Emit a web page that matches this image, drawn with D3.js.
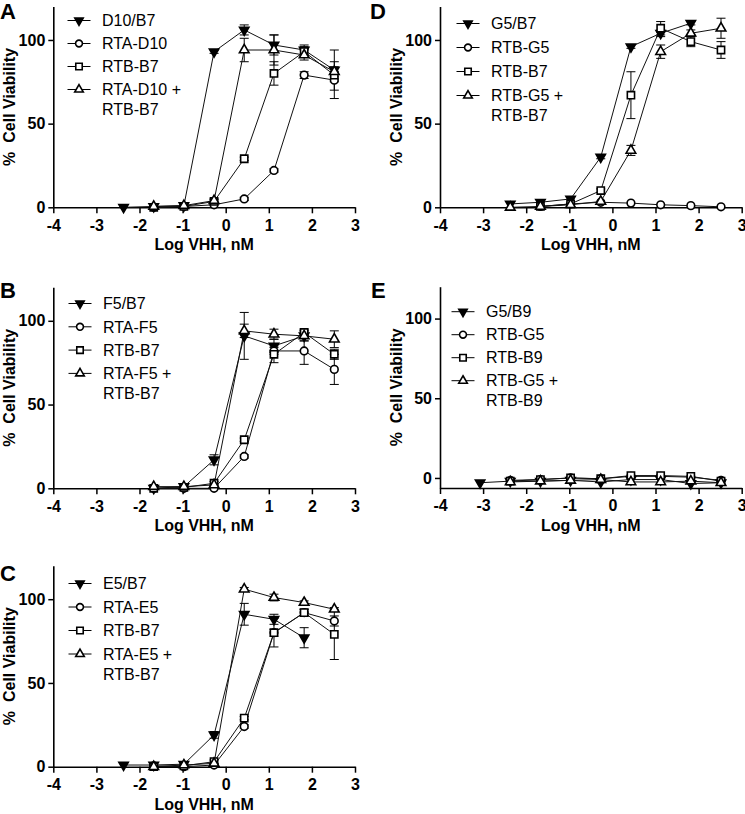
<!DOCTYPE html>
<html><head><meta charset="utf-8">
<script src="https://cdn.jsdelivr.net/npm/d3@7"></script>
<style>body{margin:0;background:#fff} svg{display:block;font-family:"Liberation Sans",Arial,Helvetica,sans-serif}</style>
</head><body><svg id="chart" width="745" height="814"></svg>
<script>
// ---------- DATA ----------
const logConc = [-3.07, -2.37, -1.67, -0.97, -0.27, 0.43, 1.12, 1.82, 2.52];
const xTicks = [-4, -3, -2, -1, 0, 1, 2, 3];
const yTicks = [0, 50, 100];
const xTitle = "Log VHH, nM";
const yTitle = "%  Cell Viability";

// Panel A
const labelsA = ["D10/B7", "RTA-D10", "RTB-B7", "RTA-D10 +\nRTB-B7"];
const valsA1 = [null, 0, 0.5, 1, 93, 106, 97, 94, 82];
const errA1  = [0, 0, 0, 0, 1, 3, 6, 3, 12];
const valsA2 = [null, null, 0, 0.5, 1.5, 5, 22, 79, 76];
const errA2  = [0, 0, 0, 0, 0, 1, 1, 2, 11];
const valsA3 = [null, null, 0, 0.5, 3.5, 29, 80, 93, 79];
const errA3  = [0, 0, 0, 0, 1, 1, 7, 3, 4];
const valsA4 = [null, null, 0.5, 1, 4, 94, 94, 91, 81];
const errA4  = [0, 0, 0, 0, 1, 7, 9, 3, 3];

// Panel B
const labelsB = ["F5/B7", "RTA-F5", "RTB-B7", "RTA-F5 +\nRTB-B7"];
const valsB1 = [null, null, 0, 1, 17, 91, 85, 91, null];
const errB1  = [0, 0, 0, 0, 3, 14, 4, 3, 0];
const valsB2 = [null, null, 0, 0, 0, 19, 82, 82, 71];
const errB2  = [0, 0, 0, 0, 0, 1, 2, 8, 9];
const valsB3 = [null, null, 0, 0.5, 3, 29, 80, 93, 80];
const errB3  = [0, 0, 0, 0, 1, 1, 5, 2, 3];
const valsB4 = [null, null, 1, 1, 2, 94, 92, 91, 89];
const errB4  = [0, 0, 0, 0, 0, 4, 3, 3, 5];

// Panel C
const labelsC = ["E5/B7", "RTA-E5", "RTB-B7", "RTA-E5 +\nRTB-B7"];
const valsC1 = [null, 1, 1, 1.5, 19, 91, 88, 77, null];
const errC1  = [0, 0, 0, 0, 2, 6.5, 3, 6, 0];
const valsC2 = [null, null, 0.5, 0, 1, 24, 80, 92, 87];
const errC2  = [0, 0, 0, 0, 0, 1, 2, 2, 3];
const valsC3 = [null, null, 0, 0.5, 3, 29, 80, 92, 79];
const errC3  = [0, 0, 0, 0, 1, 1, 8.5, 2, 15];
const valsC4 = [null, null, 0, 1, 2, 106, 101, 98, 94];
const errC4  = [0, 0, 0, 0, 0, 1, 2, 1, 1];

// Panel D
const labelsD = ["G5/B7", "RTB-G5", "RTB-B7", "RTB-G5 +\nRTB-B7"];
const valsD1 = [null, 2, 3, 5, 30, 96, 104, 110, null];
const errD1  = [0, 0, 0, 0, 1, 1, 2, 1, 0];
const valsD2 = [null, null, 0.5, 2, 3, 2.5, 1.5, 1, 0.3];
const errD2  = [0, 0, 0, 0, 0, 0, 0, 0, 0];
const valsD3 = [null, null, 0.5, 2, 10, 67, 107, 99, 94];
const errD3  = [0, 0, 0, 0, 1, 14, 4, 3, 5];
const valsD4 = [null, 0, 0.5, 1.5, 3.5, 34, 93, 104, 107];
const errD4  = [0, 0, 0, 0, 0, 3, 4, 2, 6];

// Panel E
const labelsE = ["G5/B9", "RTB-G5", "RTB-B9", "RTB-G5 +\nRTB-B9"];
const valsE1 = [-3, -2, -2, -1.5, -2.5, -1, -1, -3.5, -3];
const errE1  = [0, 0, 0, 0, 0, 0, 0, 0, 0];
const valsE2 = [null, -1.5, -1, 0, -0.5, 1, 1, 0.5, -1.5];
const errE2  = [0, 0, 0, 0, 0, 0, 0, 0, 0];
const valsE3 = [null, -2, -1, 0, -0.5, 1.5, 1.5, 1, -2];
const errE3  = [0, 0, 0, 0, 0, 0, 0, 0, 0];
const valsE4 = [null, -2.5, -2, -1.5, -1, -2.5, -2.5, -2, -3];
const errE4  = [0, 0, 0, 0, 0, 0, 0, 0, 0];

// ---------- LAYOUT ----------
const panels = [
  {letter:"A", lx:0, ly:18.5, left:53.3, right:355, top:6.5, bottom:207.3, yDomain:[0,120],
   labels:labelsA, vals:[valsA1,valsA2,valsA3,valsA4], errs:[errA1,errA2,errA3,errA4],
   legX:79, legTop:20.5, legStep:23},
  {letter:"D", lx:370, ly:18.5, left:440, right:741.7, top:6.5, bottom:207.3, yDomain:[0,120],
   labels:labelsD, vals:[valsD1,valsD2,valsD3,valsD4], errs:[errD1,errD2,errD3,errD4],
   legX:468, legTop:23.5, legStep:24},
  {letter:"B", lx:0, ly:298, left:53.3, right:355, top:287.3, bottom:488.3, yDomain:[0,120],
   labels:labelsB, vals:[valsB1,valsB2,valsB3,valsB4], errs:[errB1,errB2,errB3,errB4],
   legX:80, legTop:303.5, legStep:23.3},
  {letter:"E", lx:371, ly:298, left:440, right:741.7, top:286.7, bottom:488, yDomain:[-6.3,120],
   labels:labelsE, vals:[valsE1,valsE2,valsE3,valsE4], errs:[errE1,errE2,errE3,errE4],
   legX:463, legTop:311.7, legStep:23},
  {letter:"C", lx:0, ly:581, left:53.3, right:355, top:565.7, bottom:766.7, yDomain:[0,120],
   labels:labelsC, vals:[valsC1,valsC2,valsC3,valsC4], errs:[errC1,errC2,errC3,errC4],
   legX:80, legTop:583.5, legStep:23.5}
];

const svg = d3.select("#chart");
const markerDefs = [
  {type:d3.symbolTriangle, size:38, rot:180, fill:"#000"},
  {type:d3.symbolCircle, size:46, rot:0, fill:"#fff"},
  {type:d3.symbolSquare, size:52, rot:0, fill:"#fff"},
  {type:d3.symbolTriangle, size:40, rot:0, fill:"#fff"}
];

function marker(g, m, cx, cy, scale) {
  g.append("path")
    .attr("d", d3.symbol().type(m.type).size(m.size * scale)())
    .attr("transform", `translate(${cx},${cy}) rotate(${m.rot})`)
    .attr("fill", m.fill).attr("stroke", "#000").attr("stroke-width", 1.6);
}

panels.forEach(p => {
  const x = d3.scaleLinear().domain([-4, 3]).range([p.left, p.right]);
  const y = d3.scaleLinear().domain(p.yDomain).range([p.bottom, p.top]);
  const g = svg.append("g");

  // axes
  const gx = g.append("g").attr("transform", `translate(0,${p.bottom})`)
    .call(d3.axisBottom(x).tickValues(xTicks).tickSize(6).tickSizeOuter(0).tickPadding(3).tickFormat(d => String(d)));
  const gy = g.append("g").attr("transform", `translate(${p.left},0)`)
    .call(d3.axisLeft(y).tickValues(yTicks).tickSize(5).tickSizeOuter(0).tickPadding(3).tickFormat(d => String(d)));
  [gx, gy].forEach(a => {
    a.select(".domain").attr("stroke", "#000").attr("stroke-width", 1.6);
    a.selectAll(".tick line").attr("stroke", "#000").attr("stroke-width", 1.5);
    a.selectAll(".tick text").attr("fill", "#000").style("font-size", "16px").style("font-weight", "bold")
      .style("font-family", '"Liberation Sans",Arial,sans-serif');
  });
  gx.selectAll(".tick text").attr("dy", "0.9em");

  // titles
  g.append("text").attr("x", (p.left + p.right) / 2).attr("y", p.bottom + 43)
    .attr("text-anchor", "middle").style("font-size", "16px").style("font-weight", "bold").text(xTitle);
  g.append("text").attr("transform", `translate(${p.left - 38},${(p.top + p.bottom) / 2}) rotate(-90)`)
    .attr("text-anchor", "middle").style("font-size", "16px").style("font-weight", "bold")
    .style("white-space", "pre").attr("xml:space", "preserve").text(yTitle);
  g.append("text").attr("x", p.lx).attr("y", p.ly)
    .style("font-size", "22px").style("font-weight", "bold").text(p.letter);

  // series lines
  const line = d3.line().defined(d => d.v != null).x(d => x(d.x)).y(d => y(d.v));
  p.vals.forEach((vals, si) => {
    const data = logConc.map((lx, i) => ({x: lx, v: vals[i], e: p.errs[si][i]}));
    g.append("path").datum(data).attr("d", line).attr("fill", "none")
      .attr("stroke", "#111").attr("stroke-width", 1);
  });
  // error bars
  p.vals.forEach((vals, si) => {
    logConc.forEach((lx, i) => {
      const v = vals[i], e = p.errs[si][i];
      if (v == null || !e) return;
      const cx = x(lx);
      g.append("line").attr("x1", cx).attr("x2", cx).attr("y1", y(v - e)).attr("y2", y(v + e))
        .attr("stroke", "#000").attr("stroke-width", 1);
      [v - e, v + e].forEach(val => {
        g.append("line").attr("x1", cx - 4.5).attr("x2", cx + 4.5).attr("y1", y(val)).attr("y2", y(val))
          .attr("stroke", "#000").attr("stroke-width", 1);
      });
    });
  });
  // markers
  p.vals.forEach((vals, si) => {
    logConc.forEach((lx, i) => {
      if (vals[i] == null) return;
      marker(g, markerDefs[si], x(lx), y(vals[i]), 1);
    });
  });

  // legend
  p.labels.forEach((lab, si) => {
    const ry = p.legTop + si * p.legStep;
    g.append("line").attr("x1", p.legX - 11.5).attr("x2", p.legX + 11.5).attr("y1", ry).attr("y2", ry)
      .attr("stroke", "#000").attr("stroke-width", 1);
    marker(g, markerDefs[si], p.legX, ry, 0.8);
    const t = g.append("text").attr("x", p.legX + 23).attr("y", ry).style("font-size", "16px");
    lab.split("\n").forEach((ln, li) => {
      t.append("tspan").attr("x", p.legX + 23).attr("dy", li === 0 ? "0.36em" : "1.25em").text(ln);
    });
  });
});
</script></body></html>
